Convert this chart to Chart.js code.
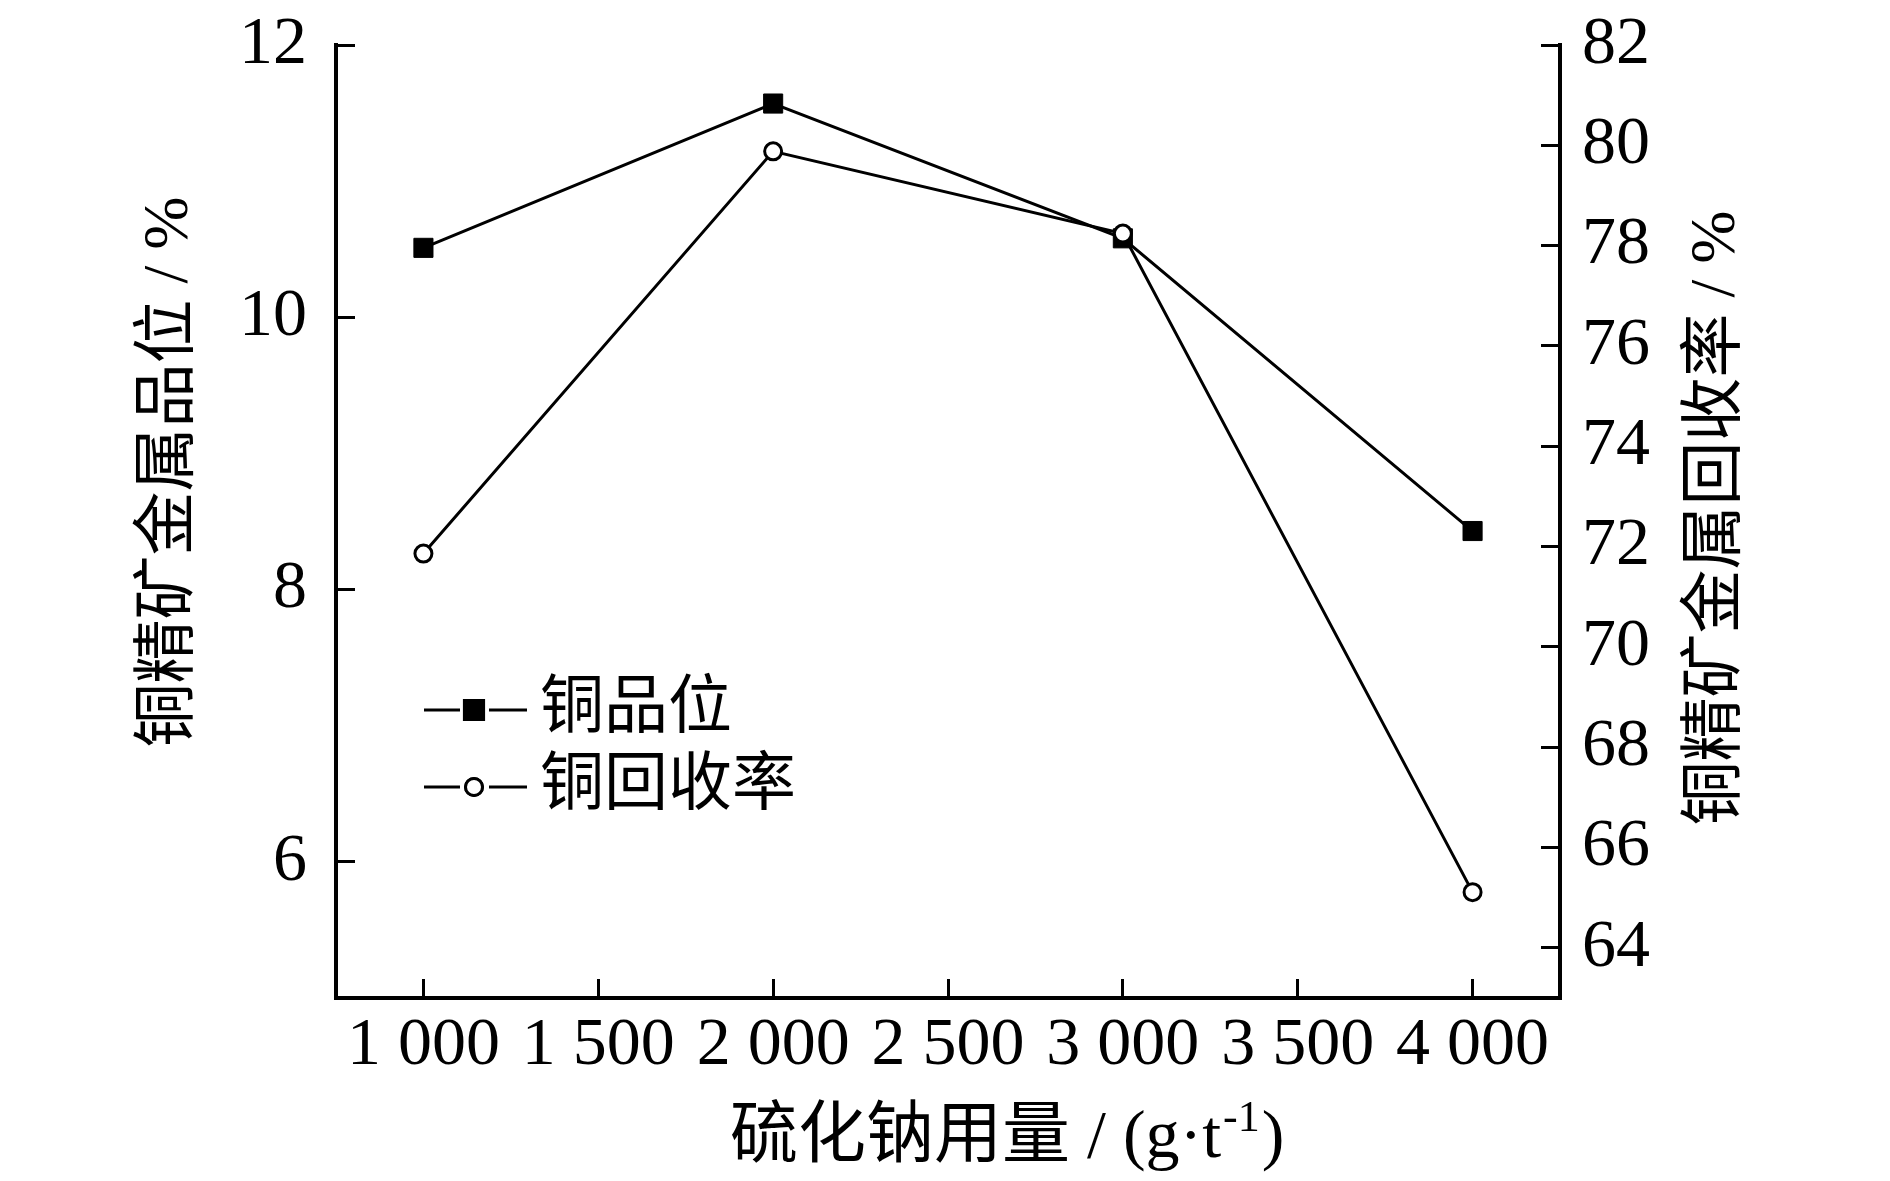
<!DOCTYPE html>
<html>
<head>
<meta charset="utf-8">
<script src="https://cdn.jsdelivr.net/npm/chart.js@4.4.1/dist/chart.umd.min.js"></script>
<style>
  html, body { margin: 0; padding: 0; background: #fff; }
  #wrap { width: 1890px; height: 1181px; position: relative; }
</style>
</head>
<body>
<div id="wrap"><canvas id="chart"></canvas></div>
<script>
// data
const doses = [1000, 2000, 3000, 4000];
const grade = [10.51, 11.57, 10.58, 8.43];      // 铜品位, left axis
const recovery = [71.86, 79.88, 78.24, 65.11];  // 铜回收率, right axis
const xTicks = [1000, 1500, 2000, 2500, 3000, 3500, 4000];
const leftTicks = [6, 8, 10, 12];
const rightTicks = [64, 66, 68, 70, 72, 74, 76, 78, 80, 82];

const SERIF = "'Liberation Serif', 'Times New Roman', 'Noto Sans CJK SC', serif";
const INK = "#000";

// thousands with a space: 1 000
function fmt(v) { return String(v).replace(/\B(?=(\d{3})+(?!\d))/g, " "); }

// keep the plot box where the figure has it (no extra room for edge labels)
function noEdgePad(s) {
  s.paddingTop = 0; s.paddingBottom = 0; s.paddingLeft = 0; s.paddingRight = 0;
}

// titles + legend drawn on top of the chart
const extras = {
  id: "extras",
  afterDraw(chart) {
    const ctx = chart.ctx;
    ctx.save();
    ctx.fillStyle = INK;
    ctx.textBaseline = "middle";

    // left axis title (reads bottom to top)
    ctx.font = "64px " + SERIF;
    ctx.textAlign = "center";
    ctx.save();
    ctx.translate(170, 472);
    ctx.rotate(-Math.PI / 2);
    ctx.fillText("铜精矿金属品位 / %", 0, 0);
    ctx.restore();

    // right axis title, same direction as the left one
    ctx.save();
    ctx.translate(1717, 518);
    ctx.rotate(-Math.PI / 2);
    ctx.fillText("铜精矿金属回收率 / %", 0, 0);
    ctx.restore();

    // x axis title with superscript
    ctx.textAlign = "left";
    ctx.font = "68px " + SERIF;
    let x = 730, y = 1139;
    const main = "硫化钠用量 / (g·t";
    ctx.fillText(main, x, y);
    x += ctx.measureText(main).width;
    ctx.font = "44px " + SERIF;
    ctx.fillText("-1", x + 2, y - 20);
    x += ctx.measureText("-1").width + 4;
    ctx.font = "68px " + SERIF;
    ctx.fillText(")", x, y);

    // legend inside the plot
    const rows = [
      { y: 710, label: "铜品位", ds: chart.data.datasets[1] },
      { y: 787, label: "铜回收率", ds: chart.data.datasets[0] }
    ];
    rows.forEach(r => {
      ctx.strokeStyle = INK;
      ctx.lineWidth = 3;
      ctx.beginPath();
      ctx.moveTo(424, r.y); ctx.lineTo(460, r.y);
      ctx.moveTo(489, r.y); ctx.lineTo(527, r.y);
      ctx.stroke();
      Chart.helpers.drawPoint(ctx, {
        pointStyle: r.ds.pointStyle,
        radius: r.ds.pointStyle === "rect" ? 13.5 : 8.5,
        borderWidth: r.ds.pointBorderWidth
      }, 474, r.y);
      ctx.fillStyle = r.ds.pointBackgroundColor;
      ctx.fill();
      ctx.stroke();
      ctx.fillStyle = INK;
      ctx.font = "64px " + SERIF;
      ctx.fillText(r.label, 540, r.y);
    });
    ctx.restore();
  }
};

const tickFont = { family: SERIF, size: 68 };

new Chart(document.getElementById("chart"), {
  type: "line",
  data: {
    datasets: [
      {
        label: "铜回收率",
        data: doses.map((d, i) => ({ x: d, y: recovery[i] })),
        yAxisID: "y1",
        order: 0,
        borderColor: INK,
        borderWidth: 3,
        pointStyle: "circle",
        pointRadius: 8.5,
        pointBorderWidth: 3,
        pointBorderColor: INK,
        pointBackgroundColor: "#fff",
        tension: 0
      },
      {
        label: "铜品位",
        data: doses.map((d, i) => ({ x: d, y: grade[i] })),
        yAxisID: "y",
        order: 1,
        borderColor: INK,
        borderWidth: 3,
        pointStyle: "rect",
        pointRadius: 13.5,
        pointBorderWidth: 1,
        pointBorderColor: INK,
        pointBackgroundColor: INK,
        tension: 0
      }
    ]
  },
  options: {
    responsive: true,
    maintainAspectRatio: false,
    animation: false,
    layout: { padding: { top: 45, left: 0, right: 0, bottom: 0 } },
    plugins: { legend: { display: false }, tooltip: { enabled: false } },
    scales: {
      x: {
        type: "linear",
        min: 750,
        max: 4250,
        afterBuildTicks: s => { s.ticks = xTicks.map(v => ({ value: v })); },
        afterFit: s => { s.height = 183; noEdgePad(s); },
        border: { display: true, color: INK, width: 4 },
        grid: { drawOnChartArea: false, color: INK, lineWidth: 3, tickLength: -19 },
        ticks: { color: INK, font: tickFont, padding: 26, maxRotation: 0, autoSkip: false, callback: v => fmt(v) }
      },
      y: {
        position: "left",
        min: 5,
        max: 12,
        afterBuildTicks: s => { s.ticks = leftTicks.map(v => ({ value: v })); },
        afterFit: s => { s.width = 336; noEdgePad(s); },
        border: { display: true, color: INK, width: 4 },
        grid: { drawOnChartArea: false, color: INK, lineWidth: 3, tickLength: -19 },
        ticks: { color: INK, font: tickFont, padding: 48 }
      },
      y1: {
        position: "right",
        min: 63,
        max: 82,
        afterBuildTicks: s => { s.ticks = rightTicks.map(v => ({ value: v })); },
        afterFit: s => { s.width = 330; noEdgePad(s); },
        border: { display: true, color: INK, width: 4 },
        grid: { drawOnChartArea: false, color: INK, lineWidth: 3, tickLength: -19 },
        ticks: { color: INK, font: tickFont, padding: 41 }
      }
    }
  },
  plugins: [extras]
});
</script>
</body>
</html>
